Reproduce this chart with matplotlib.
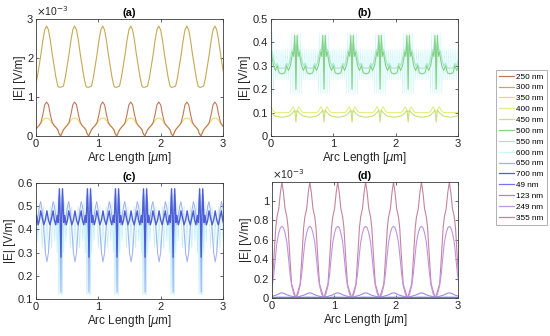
import numpy as np
import matplotlib
matplotlib.use("Agg")
import matplotlib.pyplot as plt

# ---------------- data (one period of each curve, offsets from a feature centre, in um) ----
period_um = 0.45

# panel (a) : centre = field maximum at x = 0.17 um, values in 1e-3 V/m
a_centre = 0.17
a_d = [-0.225, -0.18, -0.15, -0.12, -0.09, -0.06, -0.03, 0.0, 0.03, 0.06, 0.09, 0.12, 0.15, 0.18, 0.2, 0.225]
a_250 = [0.0, 0.16, 0.22, 0.27, 0.35, 0.55, 0.80, 0.87, 0.80, 0.55, 0.35, 0.27, 0.22, 0.16, 0.06, 0.0]
a_300 = [1.25, 1.28, 1.50, 1.80, 2.10, 2.45, 2.72, 2.82, 2.72, 2.45, 2.10, 1.80, 1.50, 1.28, 1.25, 1.25]
a_350 = [0.0, 0.16, 0.22, 0.27, 0.32, 0.40, 0.45, 0.46, 0.45, 0.40, 0.32, 0.27, 0.22, 0.16, 0.06, 0.0]

# panel (b) : centre = spike at x = 0.40 um, values in V/m
b_centre = 0.40
b_d = [-0.225, -0.18, -0.15, -0.12, -0.09, -0.07, -0.05, -0.035, -0.02, -0.01, 0.0,
       0.01, 0.02, 0.035, 0.05, 0.07, 0.09, 0.12, 0.15, 0.18, 0.225]
b_400 = [0.100, 0.100, 0.100, 0.100, 0.105, 0.115, 0.125, 0.120, 0.110, 0.105, 0.100,
         0.105, 0.110, 0.120, 0.125, 0.115, 0.105, 0.100, 0.100, 0.100, 0.100]
b_450 = [0.080, 0.082, 0.084, 0.085, 0.090, 0.095, 0.100, 0.105, 0.110, 0.090, 0.060,
         0.090, 0.110, 0.105, 0.100, 0.095, 0.090, 0.085, 0.084, 0.082, 0.080]
b_500 = [0.265, 0.270, 0.300, 0.280, 0.300, 0.330, 0.360, 0.340, 0.430, 0.350, 0.200,
         0.350, 0.430, 0.340, 0.360, 0.330, 0.300, 0.280, 0.300, 0.270, 0.265]
b_550 = [0.290, 0.290, 0.310, 0.300, 0.330, 0.360, 0.370, 0.370, 0.400, 0.380, 0.300,
         0.380, 0.400, 0.370, 0.370, 0.360, 0.330, 0.300, 0.310, 0.290, 0.290]
b600_d = [-0.225, -0.21, -0.195, -0.18, -0.165, -0.15, -0.135, -0.12, -0.105, -0.09, -0.075,
          -0.06, -0.045, -0.03, -0.015, 0.0, 0.015, 0.03, 0.045, 0.06, 0.075, 0.09, 0.105,
          0.12, 0.135, 0.15, 0.165, 0.18, 0.195, 0.21, 0.225]
b_600 = [0.37, 0.24, 0.37, 0.24, 0.37, 0.24, 0.37, 0.24, 0.37, 0.18, 0.44,
         0.18, 0.44, 0.18, 0.44, 0.18, 0.44, 0.18, 0.44, 0.18, 0.44, 0.18, 0.37,
         0.24, 0.37, 0.24, 0.37, 0.24, 0.37, 0.24, 0.37]

# panel (c) : centre = spike at x = 0.40 um, values in V/m
c_centre = 0.40
c_d = [-0.225, -0.2, -0.175, -0.15, -0.125, -0.105, -0.085, -0.06, -0.045, -0.025, -0.012, 0.0,
       0.012, 0.025, 0.045, 0.06, 0.085, 0.105, 0.125, 0.15, 0.175, 0.2, 0.225]
c_650 = [0.26, 0.30, 0.40, 0.48, 0.52, 0.50, 0.46, 0.42, 0.46, 0.55, 0.47, 0.13,
         0.47, 0.55, 0.46, 0.42, 0.46, 0.50, 0.52, 0.48, 0.40, 0.30, 0.26]
c_700 = [0.48, 0.44, 0.42, 0.45, 0.48, 0.44, 0.42, 0.46, 0.43, 0.575, 0.45, 0.28,
         0.45, 0.575, 0.43, 0.46, 0.42, 0.44, 0.48, 0.45, 0.42, 0.44, 0.48]
c600_d = [-0.225, -0.2, -0.175, -0.15, -0.125, -0.1, -0.08, -0.06, -0.045, -0.035, -0.025,
          -0.015, -0.005, 0.005, 0.015, 0.025, 0.035, 0.045, 0.06, 0.08, 0.1, 0.125,
          0.15, 0.175, 0.2, 0.225]
c_600 = [0.45, 0.30, 0.50, 0.32, 0.50, 0.35, 0.52, 0.30, 0.55, 0.12, 0.55,
         0.12, 0.55, 0.12, 0.55, 0.12, 0.55, 0.30, 0.52, 0.35, 0.50, 0.50,
         0.32, 0.50, 0.30, 0.45]

# panel (d) : centre = field maximum at x = 0.16 um, values in 1e-3 V/m
d_centre = 0.16
d_d = [-0.225, -0.19, -0.156, -0.13, -0.10, -0.08, -0.05, -0.025, 0.0,
       0.025, 0.05, 0.08, 0.10, 0.13, 0.156, 0.19, 0.225]
d_49 = [0.004, 0.004, 0.005, 0.005, 0.006, 0.006, 0.007, 0.007, 0.007,
        0.007, 0.007, 0.006, 0.006, 0.005, 0.005, 0.004, 0.004]
d_123 = [0.008, 0.012, 0.018, 0.022, 0.028, 0.033, 0.042, 0.050, 0.052,
         0.050, 0.042, 0.033, 0.028, 0.022, 0.018, 0.012, 0.008]
d_249 = [0.0, 0.04, 0.13, 0.25, 0.45, 0.57, 0.67, 0.72, 0.735,
         0.72, 0.67, 0.57, 0.45, 0.25, 0.13, 0.04, 0.0]
d_355 = [0.0, 0.07, 0.145, 0.40, 0.72, 0.83, 0.92, 1.08, 1.19,
         1.08, 0.92, 0.83, 0.72, 0.40, 0.145, 0.07, 0.0]

legend_order = ["250 nm", "300 nm", "350 nm", "400 nm", "450 nm", "500 nm", "550 nm",
                "600 nm", "650 nm", "700 nm", "49 nm", "123 nm", "249 nm", "355 nm"]
colors = {
    "250 nm": "#c2785a", "300 nm": "#c4aa52", "350 nm": "#e8de6a", "400 nm": "#e4ee84",
    "450 nm": "#c6e27a", "500 nm": "#84d284", "550 nm": "#a6e8cc", "600 nm": "#cdf6f8",
    "650 nm": "#a2aef0", "700 nm": "#4e5cd6", "49 nm": "#7474ee", "123 nm": "#a286ee",
    "249 nm": "#c292e4", "355 nm": "#c4849e",
}

# ---------------- plotting ----------------
plt.rcParams['font.family'] = ['Liberation Sans', 'DejaVu Sans']
plt.rcParams['mathtext.fontset'] = 'dejavusans'
TXT = '#262626'

def tile(d, v, centre):
    d = np.asarray(d, float)
    v = np.asarray(v, float)
    xs, ys = [], []
    for k in range(-1, 9):
        xs.append(centre + k * period_um + d[:-1])
        ys.append(v[:-1])
    return np.concatenate(xs), np.concatenate(ys)

fig = plt.figure(figsize=(5.5, 3.36), dpi=100)
W, H = 550.0, 336.0
def add_ax(l, r, t, b):
    return fig.add_axes([l / W, 1 - b / H, (r - l) / W, (b - t) / H])

ax_a = add_ax(36, 223, 19, 136)
ax_b = add_ax(271, 458, 19, 136)
ax_c = add_ax(36, 223, 183, 299)
ax_d = add_ax(272, 458, 182, 298)

handles = {}
def draw(ax, d, v, centre, name, lw=0.8, alpha=1.0, z=2):
    x, y = tile(d, v, centre)
    ln, = ax.plot(x, y, color=colors[name], lw=lw, alpha=alpha, zorder=z, label=name)
    handles[name] = ln

# (a)
draw(ax_a, a_d, a_350, a_centre, "350 nm")
draw(ax_a, a_d, a_250, a_centre, "250 nm")
draw(ax_a, a_d, a_300, a_centre, "300 nm")
# (b)
draw(ax_b, b600_d, b_600, b_centre, "600 nm", lw=0.35, z=1)
draw(ax_b, b_d, b_400, b_centre, "400 nm")
draw(ax_b, b_d, b_450, b_centre, "450 nm")
draw(ax_b, b_d, b_550, b_centre, "550 nm")
draw(ax_b, b_d, b_500, b_centre, "500 nm")
# (c)
x6, y6 = tile(c600_d, c_600, c_centre)
ax_c.plot(x6, y6, color="#bfeef8", lw=0.5, zorder=1)
draw(ax_c, c_d, c_650, c_centre, "650 nm", lw=0.7)
draw(ax_c, c_d, c_700, c_centre, "700 nm", lw=1.0)
# (d)
draw(ax_d, d_d, d_355, d_centre, "355 nm")
draw(ax_d, d_d, d_249, d_centre, "249 nm")
draw(ax_d, d_d, d_123, d_centre, "123 nm")
draw(ax_d, d_d, d_49, d_centre, "49 nm", lw=1.0)

setup = [
    (ax_a, "(a)", (0, 3), [0, 1, 2, 3], ["0", "1", "2", "3"], True),
    (ax_b, "(b)", (0, 0.5), [0, 0.1, 0.2, 0.3, 0.4, 0.5], ["0", "0.1", "0.2", "0.3", "0.4", "0.5"], False),
    (ax_c, "(c)", (0.1, 0.6), [0.1, 0.2, 0.3, 0.4, 0.5, 0.6], ["0.1", "0.2", "0.3", "0.4", "0.5", "0.6"], False),
    (ax_d, "(d)", (0, 1.19), [0, 0.2, 0.4, 0.6, 0.8, 1.0], ["0", "0.2", "0.4", "0.6", "0.8", "1"], True),
]
for ax, title, ylim, yt, ytl, sci in setup:
    ax.set_xlim(0, 3)
    ax.set_ylim(*ylim)
    ax.set_xticks([0, 1, 2, 3])
    ax.set_xticklabels(["0", "1", "2", "3"])
    ax.set_yticks(yt)
    ax.set_yticklabels(ytl)
    ax.tick_params(direction='in', length=2.5, width=0.5, colors=TXT, labelsize=8,
                   top=True, right=True, pad=2)
    for s in ax.spines.values():
        s.set_color('#3a3a3a')
        s.set_linewidth(0.6)
    ax.set_title(title, fontsize=8, fontweight='bold', color='black', pad=2)
    ax.set_xlabel(r"Arc Length [$\mu$m]", fontsize=8.5, color=TXT, labelpad=1)
    ax.set_ylabel("|E| [V/m]", fontsize=8.5, color=TXT, labelpad=1)
    if sci:
        ax.text(0.0, 1.005, r"$\times$10$^{-3}$", transform=ax.transAxes, fontsize=7.5,
                color=TXT, ha='left', va='bottom')

leg = fig.legend([handles[n] for n in legend_order], legend_order,
                 loc='upper left', bbox_to_anchor=(496 / W, 1 - 70 / H),
                 fontsize=5.9, frameon=True, fancybox=False, borderpad=0.35,
                 labelspacing=0.38, handlelength=1.9, handletextpad=0.25,
                 borderaxespad=0.0)
leg.get_frame().set_edgecolor('#8c8c8c')
leg.get_frame().set_linewidth(0.6)
for lh in leg.get_lines():
    lh.set_linewidth(0.9)
    lh.set_alpha(1.0)

fig.savefig("out.png", dpi=100)
